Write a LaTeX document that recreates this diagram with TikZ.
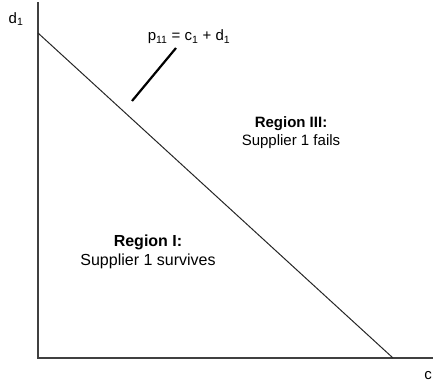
\documentclass[tikz,border=0pt]{standalone}
\usepackage{fontspec}
\setmainfont{Liberation Sans}
\begin{document}
\begin{tikzpicture}[x=1pt,y=-1pt,
  lbl/.style={font=\fontsize{15}{18}\selectfont, inner sep=0pt, align=center},
  lblb/.style={font=\fontsize{16}{19.5}\selectfont, inner sep=0pt, align=center},
  axis/.style={line width=1.2pt, draw=black!75},
  budget/.style={line width=1pt, draw=black!85},
  pointer/.style={line width=2.2pt}]
\useasboundingbox (0,0) rectangle (436,388);
\coordinate (O) at (38,358);
\coordinate (ytop) at (38,2);
\coordinate (xend) at (433,358);
\coordinate (dint) at (38,33);
\coordinate (cint) at (393,358);
\draw[axis] (ytop) -- (O) -- (xend);
\draw[budget] (dint) -- (cint);
\node[lbl] (dl) at (16,19) {d\textsubscript{1}};
\node[lbl] (cl) at (428,376) {c};
\node[lbl] (eq) at (189,37) {p\textsubscript{11} = c\textsubscript{1} + d\textsubscript{1}};
\coordinate (pa) at (132,101);
\coordinate (pb) at (176,48);
\draw[pointer] (pa) -- (pb);
\node[lbl] (r3) at (291,133) {\textbf{Region III:}\\Supplier 1 fails};
\node[lblb] (r1) at (148,252) {\textbf{Region I:}\\Supplier 1 survives};
\end{tikzpicture}
\end{document}
